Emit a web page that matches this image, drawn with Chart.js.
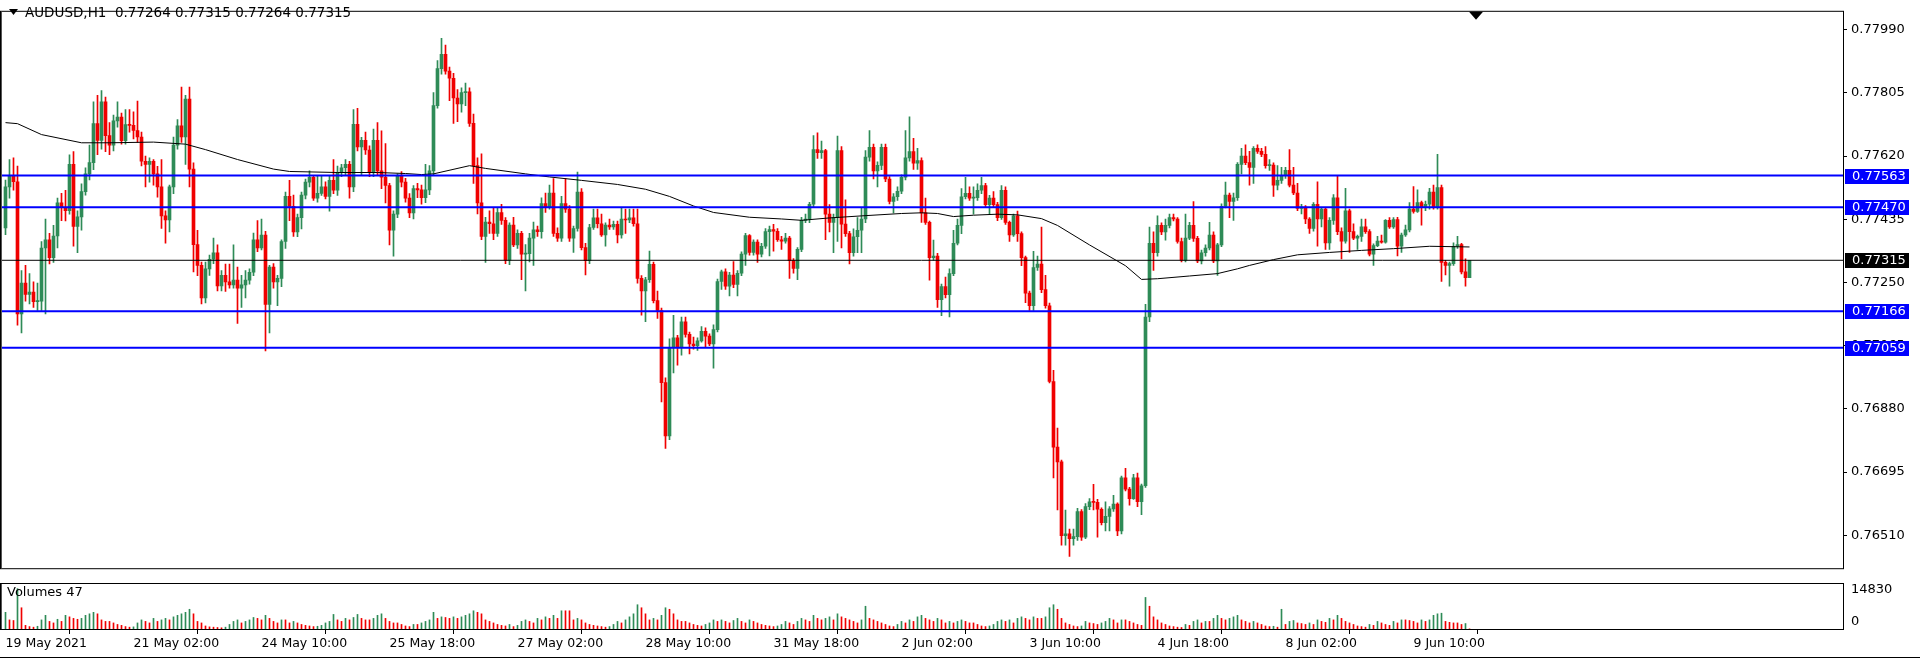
<!DOCTYPE html>
<html><head><meta charset="utf-8">
<script src="https://cdn.jsdelivr.net/npm/chart.js@4.4.1/dist/chart.umd.min.js"></script>
<style>
html,body{margin:0;padding:0;background:#fff;width:1920px;height:661px;overflow:hidden}
canvas{position:absolute;left:0;display:block}
#main{top:0}
#vol{top:580px}
</style></head><body>
<canvas id="main" width="1920" height="580"></canvas>
<canvas id="vol" width="1920" height="81"></canvas>
<script>
// ---------------- DATA ----------------
const symbol = "AUDUSD,H1";
const timeLabels = ["19 May 2021","21 May 02:00","24 May 10:00","25 May 18:00","27 May 02:00","28 May 10:00","31 May 18:00","2 Jun 02:00","3 Jun 10:00","4 Jun 18:00","8 Jun 02:00","9 Jun 10:00"];
const timeTickBars = [0,32,64,96,128,160,192,224,256,288,320,352];
const priceTicks = [0.76510,0.76695,0.76880,0.77065,0.77250,0.77435,0.77620,0.77805,0.77990];
const levelLines = [0.77563,0.77470,0.77166,0.77059];
const volumeScaleMax = 14830;

const open = [
0.77410,0.77530,0.77563,0.77545,0.77158,0.77248,0.77215,0.77222,0.77194,0.77195,
0.77351,0.77375,0.77323,0.77386,0.77483,0.77469,0.77460,0.77596,0.77414,0.77442,
0.77516,0.77568,0.77601,0.77715,0.77666,0.77779,0.77680,0.77652,0.77723,0.77734,
0.77665,0.77712,0.77710,0.77695,0.77676,0.77605,0.77596,0.77605,0.77568,0.77530,
0.77445,0.77433,0.77530,0.77652,0.77709,0.77676,0.77787,0.77582,0.77361,0.77300,
0.77205,0.77290,0.77318,0.77337,0.77240,0.77271,0.77252,0.77243,0.77257,0.77233,
0.77243,0.77257,0.77280,0.77375,0.77351,0.77389,0.77186,0.77295,0.77252,0.77262,
0.77370,0.77502,0.77473,0.77398,0.77440,0.77506,0.77544,0.77558,0.77497,0.77511,
0.77530,0.77502,0.77549,0.77520,0.77572,0.77586,0.77596,0.77530,0.77713,0.77647,
0.77666,0.77638,0.77572,0.77666,0.77577,0.77558,0.77534,0.77403,0.77450,0.77563,
0.77544,0.77497,0.77454,0.77525,0.77521,0.77498,0.77521,0.77577,0.77768,0.77876,
0.77918,0.77869,0.77848,0.77790,0.77773,0.77806,0.77808,0.77716,0.77592,0.77483,
0.77385,0.77427,0.77422,0.77394,0.77455,0.77432,0.77315,0.77418,0.77360,0.77394,
0.77333,0.77334,0.77380,0.77404,0.77399,0.77481,0.77469,0.77512,0.77394,0.77380,
0.77481,0.77465,0.77380,0.77408,0.77515,0.77352,0.77314,0.77411,0.77439,0.77422,
0.77389,0.77418,0.77413,0.77420,0.77389,0.77436,0.77433,0.77439,0.77422,0.77262,
0.77225,0.77258,0.77303,0.77197,0.77168,0.76957,0.76801,0.77060,0.77088,0.77060,
0.77135,0.77098,0.77070,0.77065,0.77079,0.77107,0.77093,0.77070,0.77112,0.77253,
0.77281,0.77239,0.77272,0.77244,0.77277,0.77333,0.77387,0.77338,0.77368,0.77333,
0.77356,0.77399,0.77405,0.77400,0.77375,0.77371,0.77380,0.77314,0.77291,0.77347,
0.77432,0.77436,0.77479,0.77639,0.77630,0.77636,0.77450,0.77426,0.77440,0.77636,
0.77421,0.77393,0.77337,0.77384,0.77403,0.77436,0.77617,0.77646,0.77577,0.77593,
0.77646,0.77553,0.77487,0.77501,0.77517,0.77558,0.77615,0.77633,0.77599,0.77607,
0.77454,0.77426,0.77323,0.77327,0.77200,0.77238,0.77214,0.77276,0.77365,0.77417,
0.77501,0.77511,0.77497,0.77498,0.77520,0.77534,0.77478,0.77497,0.77478,0.77440,
0.77520,0.77426,0.77389,0.77445,0.77393,0.77323,0.77219,0.77182,0.77294,0.77304,
0.77229,0.77182,0.76960,0.76768,0.76725,0.76509,0.76514,0.76500,0.76506,0.76579,
0.76504,0.76594,0.76608,0.76606,0.76586,0.76547,0.76565,0.76587,0.76601,0.76523,
0.76678,0.76645,0.76617,0.76678,0.76608,0.76655,0.77149,0.77365,0.77337,0.77417,
0.77398,0.77417,0.77440,0.77436,0.77370,0.77315,0.77380,0.77417,0.77379,0.77313,
0.77337,0.77351,0.77389,0.77313,0.77360,0.77473,0.77506,0.77487,0.77498,0.77596,
0.77620,0.77601,0.77587,0.77643,0.77634,0.77625,0.77592,0.77594,0.77535,0.77549,
0.77563,0.77578,0.77535,0.77512,0.77467,0.77471,0.77436,0.77408,0.77479,0.77436,
0.77465,0.77366,0.77432,0.77498,0.77399,0.77371,0.77460,0.77399,0.77380,0.77385,
0.77413,0.77399,0.77333,0.77358,0.77371,0.77368,0.77432,0.77413,0.77434,0.77356,
0.77389,0.77404,0.77465,0.77458,0.77484,0.77469,0.77479,0.77515,0.77469,0.77528,
0.77309,0.77300,0.77305,0.77356,0.77361,0.77281,0.77264];

const high = [
0.77550,0.77610,0.77615,0.77591,0.77285,0.77300,0.77276,0.77252,0.77248,0.77370,
0.77436,0.77394,0.77417,0.77497,0.77511,0.77520,0.77624,0.77633,0.77460,0.77539,
0.77586,0.77652,0.77779,0.77798,0.77812,0.77793,0.77718,0.77740,0.77779,0.77746,
0.77756,0.77756,0.77750,0.77781,0.77690,0.77620,0.77615,0.77610,0.77590,0.77610,
0.77460,0.77535,0.77676,0.77727,0.77822,0.77798,0.77822,0.77600,0.77403,0.77310,
0.77310,0.77330,0.77380,0.77360,0.77285,0.77304,0.77304,0.77360,0.77295,0.77271,
0.77285,0.77290,0.77395,0.77431,0.77436,0.77400,0.77300,0.77305,0.77271,0.77375,
0.77515,0.77549,0.77506,0.77450,0.77515,0.77553,0.77577,0.77563,0.77563,0.77563,
0.77545,0.77563,0.77610,0.77591,0.77596,0.77610,0.77605,0.77756,0.77760,0.77675,
0.77690,0.77650,0.77699,0.77718,0.77694,0.77657,0.77540,0.77460,0.77568,0.77575,
0.77555,0.77510,0.77534,0.77540,0.77535,0.77596,0.77592,0.77806,0.77900,0.77965,
0.77945,0.77881,0.77862,0.77815,0.77820,0.77834,0.77820,0.77743,0.77615,0.77627,
0.77441,0.77460,0.77469,0.77469,0.77479,0.77440,0.77425,0.77441,0.77404,0.77400,
0.77361,0.77394,0.77427,0.77415,0.77498,0.77512,0.77535,0.77554,0.77410,0.77502,
0.77554,0.77475,0.77415,0.77573,0.77525,0.77365,0.77420,0.77465,0.77465,0.77450,
0.77425,0.77436,0.77430,0.77430,0.77469,0.77465,0.77465,0.77465,0.77465,0.77270,
0.77265,0.77342,0.77310,0.77225,0.77175,0.76971,0.77085,0.77154,0.77095,0.77149,
0.77149,0.77105,0.77090,0.77088,0.77121,0.77117,0.77100,0.77126,0.77260,0.77286,
0.77290,0.77280,0.77311,0.77285,0.77340,0.77394,0.77390,0.77375,0.77375,0.77365,
0.77408,0.77415,0.77420,0.77408,0.77385,0.77394,0.77385,0.77320,0.77352,0.77441,
0.77450,0.77485,0.77680,0.77688,0.77664,0.77640,0.77478,0.77450,0.77679,0.77648,
0.77492,0.77400,0.77407,0.77440,0.77468,0.77636,0.77695,0.77655,0.77603,0.77655,
0.77655,0.77560,0.77510,0.77530,0.77565,0.77695,0.77735,0.77672,0.77643,0.77615,
0.77497,0.77430,0.77374,0.77335,0.77245,0.77266,0.77290,0.77403,0.77436,0.77525,
0.77558,0.77530,0.77530,0.77539,0.77558,0.77540,0.77505,0.77516,0.77485,0.77534,
0.77530,0.77430,0.77450,0.77459,0.77398,0.77327,0.77225,0.77341,0.77327,0.77412,
0.77271,0.77190,0.76993,0.76824,0.76730,0.76584,0.76528,0.76528,0.76589,0.76585,
0.76603,0.76617,0.76659,0.76615,0.76590,0.76608,0.76594,0.76627,0.76605,0.76683,
0.76706,0.76650,0.76688,0.76692,0.76660,0.77186,0.77412,0.77398,0.77445,0.77425,
0.77436,0.77450,0.77450,0.77440,0.77380,0.77450,0.77426,0.77487,0.77385,0.77345,
0.77360,0.77426,0.77398,0.77365,0.77480,0.77544,0.77512,0.77512,0.77601,0.77643,
0.77653,0.77634,0.77648,0.77653,0.77643,0.77648,0.77610,0.77600,0.77592,0.77587,
0.77587,0.77639,0.77587,0.77540,0.77479,0.77475,0.77440,0.77484,0.77545,0.77470,
0.77470,0.77440,0.77507,0.77563,0.77410,0.77526,0.77465,0.77422,0.77389,0.77436,
0.77436,0.77405,0.77363,0.77385,0.77389,0.77434,0.77440,0.77440,0.77441,0.77395,
0.77418,0.77484,0.77531,0.77521,0.77488,0.77488,0.77526,0.77535,0.77625,0.77535,
0.77315,0.77310,0.77366,0.77385,0.77365,0.77319,0.77315];

const low = [
0.77390,0.77497,0.77520,0.77125,0.77102,0.77195,0.77187,0.77177,0.77168,0.77168,
0.77158,0.77304,0.77309,0.77351,0.77431,0.77430,0.77450,0.77356,0.77337,0.77403,
0.77506,0.77550,0.77580,0.77624,0.77640,0.77633,0.77624,0.77635,0.77705,0.77655,
0.77655,0.77690,0.77670,0.77660,0.77591,0.77530,0.77544,0.77535,0.77500,0.77408,
0.77365,0.77398,0.77510,0.77640,0.77660,0.77596,0.77530,0.77281,0.77270,0.77187,
0.77190,0.77271,0.77305,0.77225,0.77225,0.77224,0.77233,0.77233,0.77130,0.77177,
0.77205,0.77245,0.77270,0.77340,0.77345,0.77050,0.77102,0.77233,0.77182,0.77238,
0.77350,0.77431,0.77385,0.77384,0.77407,0.77495,0.77530,0.77490,0.77485,0.77505,
0.77495,0.77459,0.77510,0.77505,0.77560,0.77565,0.77497,0.77516,0.77635,0.77563,
0.77625,0.77560,0.77560,0.77565,0.77525,0.77483,0.77360,0.77327,0.77440,0.77530,
0.77485,0.77440,0.77436,0.77498,0.77479,0.77484,0.77507,0.77565,0.77760,0.77860,
0.77860,0.77782,0.77716,0.77721,0.77749,0.77768,0.77707,0.77540,0.77451,0.77375,
0.77309,0.77394,0.77375,0.77385,0.77420,0.77305,0.77302,0.77355,0.77350,0.77258,
0.77225,0.77310,0.77300,0.77385,0.77380,0.77455,0.77465,0.77385,0.77370,0.77370,
0.77455,0.77370,0.77338,0.77400,0.77345,0.77272,0.77305,0.77405,0.77410,0.77385,
0.77356,0.77405,0.77405,0.77366,0.77380,0.77394,0.77425,0.77415,0.77248,0.77154,
0.77135,0.77250,0.77190,0.77145,0.76900,0.76764,0.76790,0.76985,0.77008,0.77037,
0.77090,0.77041,0.77055,0.77051,0.77075,0.77060,0.77065,0.76999,0.77105,0.77230,
0.77230,0.77211,0.77235,0.77211,0.77270,0.77300,0.77330,0.77330,0.77309,0.77325,
0.77350,0.77328,0.77342,0.77370,0.77347,0.77365,0.77262,0.77277,0.77258,0.77340,
0.77425,0.77425,0.77470,0.77613,0.77613,0.77375,0.77398,0.77337,0.77370,0.77351,
0.77385,0.77304,0.77327,0.77337,0.77337,0.77425,0.77605,0.77553,0.77530,0.77580,
0.77545,0.77480,0.77454,0.77490,0.77510,0.77550,0.77605,0.77581,0.77581,0.77426,
0.77420,0.77257,0.77315,0.77177,0.77153,0.77205,0.77149,0.77270,0.77360,0.77393,
0.77495,0.77490,0.77450,0.77490,0.77510,0.77470,0.77450,0.77470,0.77431,0.77435,
0.77420,0.77370,0.77385,0.77370,0.77299,0.77191,0.77168,0.77168,0.77285,0.77220,
0.77175,0.76956,0.76678,0.76584,0.76481,0.76481,0.76448,0.76481,0.76495,0.76495,
0.76500,0.76585,0.76584,0.76504,0.76540,0.76523,0.76523,0.76580,0.76509,0.76514,
0.76640,0.76598,0.76615,0.76594,0.76570,0.76650,0.77135,0.77285,0.77327,0.77390,
0.77374,0.77410,0.77430,0.77365,0.77310,0.77310,0.77375,0.77370,0.77308,0.77304,
0.77327,0.77345,0.77308,0.77271,0.77355,0.77468,0.77440,0.77432,0.77490,0.77568,
0.77595,0.77535,0.77540,0.77628,0.77618,0.77585,0.77578,0.77502,0.77521,0.77540,
0.77555,0.77530,0.77507,0.77460,0.77451,0.77422,0.77394,0.77400,0.77356,0.77413,
0.77347,0.77347,0.77420,0.77390,0.77319,0.77365,0.77338,0.77375,0.77347,0.77370,
0.77394,0.77328,0.77300,0.77355,0.77365,0.77365,0.77408,0.77408,0.77328,0.77338,
0.77385,0.77398,0.77453,0.77455,0.77418,0.77460,0.77465,0.77465,0.77465,0.77253,
0.77272,0.77239,0.77300,0.77350,0.77275,0.77239,0.77264];

const close = [
0.77530,0.77563,0.77545,0.77158,0.77248,0.77215,0.77222,0.77194,0.77195,0.77351,
0.77375,0.77323,0.77386,0.77483,0.77469,0.77460,0.77596,0.77414,0.77442,0.77516,
0.77568,0.77601,0.77715,0.77666,0.77779,0.77680,0.77652,0.77723,0.77734,0.77665,
0.77712,0.77710,0.77695,0.77676,0.77605,0.77596,0.77605,0.77568,0.77530,0.77445,
0.77433,0.77530,0.77652,0.77709,0.77676,0.77787,0.77582,0.77361,0.77300,0.77205,
0.77290,0.77318,0.77337,0.77240,0.77271,0.77252,0.77243,0.77257,0.77233,0.77243,
0.77257,0.77280,0.77375,0.77351,0.77389,0.77186,0.77295,0.77252,0.77262,0.77370,
0.77502,0.77473,0.77398,0.77440,0.77506,0.77544,0.77558,0.77497,0.77511,0.77530,
0.77502,0.77549,0.77520,0.77572,0.77586,0.77596,0.77530,0.77713,0.77647,0.77666,
0.77638,0.77572,0.77666,0.77577,0.77558,0.77534,0.77403,0.77450,0.77563,0.77544,
0.77497,0.77454,0.77525,0.77521,0.77498,0.77521,0.77577,0.77768,0.77876,0.77918,
0.77869,0.77848,0.77790,0.77773,0.77806,0.77808,0.77716,0.77592,0.77483,0.77385,
0.77427,0.77422,0.77394,0.77455,0.77432,0.77315,0.77418,0.77360,0.77394,0.77333,
0.77334,0.77380,0.77404,0.77399,0.77481,0.77469,0.77512,0.77394,0.77380,0.77481,
0.77465,0.77380,0.77408,0.77515,0.77352,0.77314,0.77411,0.77439,0.77422,0.77389,
0.77418,0.77413,0.77420,0.77389,0.77436,0.77433,0.77439,0.77422,0.77262,0.77225,
0.77258,0.77303,0.77197,0.77168,0.76957,0.76801,0.77060,0.77088,0.77060,0.77135,
0.77098,0.77070,0.77065,0.77079,0.77107,0.77093,0.77070,0.77112,0.77253,0.77281,
0.77239,0.77272,0.77244,0.77277,0.77333,0.77387,0.77338,0.77368,0.77333,0.77356,
0.77399,0.77405,0.77400,0.77375,0.77371,0.77380,0.77314,0.77291,0.77347,0.77432,
0.77436,0.77479,0.77639,0.77630,0.77636,0.77450,0.77426,0.77440,0.77636,0.77421,
0.77393,0.77337,0.77384,0.77403,0.77436,0.77617,0.77646,0.77577,0.77593,0.77646,
0.77553,0.77487,0.77501,0.77517,0.77558,0.77615,0.77633,0.77599,0.77607,0.77454,
0.77426,0.77323,0.77327,0.77200,0.77238,0.77214,0.77276,0.77365,0.77417,0.77501,
0.77511,0.77497,0.77498,0.77520,0.77534,0.77478,0.77497,0.77478,0.77440,0.77520,
0.77426,0.77389,0.77445,0.77393,0.77323,0.77219,0.77182,0.77294,0.77304,0.77229,
0.77182,0.76960,0.76768,0.76725,0.76509,0.76514,0.76500,0.76506,0.76579,0.76504,
0.76594,0.76608,0.76606,0.76586,0.76547,0.76565,0.76587,0.76601,0.76523,0.76678,
0.76645,0.76617,0.76678,0.76608,0.76655,0.77149,0.77365,0.77337,0.77417,0.77398,
0.77417,0.77440,0.77436,0.77370,0.77315,0.77380,0.77417,0.77379,0.77313,0.77337,
0.77351,0.77389,0.77313,0.77360,0.77473,0.77506,0.77487,0.77498,0.77596,0.77620,
0.77601,0.77587,0.77643,0.77634,0.77625,0.77592,0.77594,0.77535,0.77549,0.77563,
0.77578,0.77535,0.77512,0.77467,0.77471,0.77436,0.77408,0.77479,0.77436,0.77465,
0.77366,0.77432,0.77498,0.77399,0.77371,0.77460,0.77399,0.77380,0.77385,0.77413,
0.77399,0.77333,0.77358,0.77371,0.77368,0.77432,0.77413,0.77434,0.77356,0.77389,
0.77404,0.77465,0.77458,0.77484,0.77469,0.77479,0.77515,0.77469,0.77528,0.77309,
0.77300,0.77305,0.77356,0.77361,0.77281,0.77264,0.77315];

const volume = [
5500,3000,2800,13300,7000,1200,800,600,900,3000,
4500,2500,2000,3200,2500,4500,4000,3500,3200,3500,
4500,5000,5500,5000,3000,2500,2500,2000,1500,1200,
800,600,700,2000,3000,2500,2000,3500,2500,3000,
3500,3000,4000,4500,5000,5500,6500,5000,2500,2000,
1000,700,600,500,400,600,1500,2500,3000,2000,
2500,3000,3800,3500,3000,4500,3500,2500,2000,3000,
3000,2000,2500,2000,1500,1200,1000,800,900,1200,
2000,2500,4800,3000,2500,3500,3000,3800,4800,3500,
3000,3000,3500,4500,5000,3500,2500,2000,2000,1500,
1000,800,1500,1500,2000,2500,3000,5500,3500,4000,
3800,3500,4000,3500,4000,4500,5000,6000,5500,5000,
3000,2500,2000,1500,1200,1000,1500,800,1200,2500,
3000,2500,2000,3500,3000,4000,3500,4500,3500,6000,
6000,6000,3000,3500,3000,2000,1500,1200,1000,800,
600,800,1500,2500,2000,3000,4000,5000,8000,7000,
5000,3000,3500,3000,4500,7000,6500,5000,3000,2500,
2500,2000,1500,1200,1000,1500,2000,3000,2500,3000,
2500,2000,2800,3500,2500,2000,3000,2500,2000,1500,
1200,1000,800,1000,1500,2500,2000,1500,2500,3500,
3000,2500,4500,3500,3000,3500,4000,3000,5000,4000,
3500,3000,2500,2000,3000,7500,3500,3000,2500,2000,
1500,1000,800,1500,2500,2000,3000,2500,4000,4500,
3500,3000,2500,3500,3000,2000,2500,2000,2500,3000,
2500,2000,2000,1500,1000,800,1000,1500,2500,3000,
2500,3000,2000,3500,4000,3500,3000,4000,3500,3500,
4000,7000,8000,6500,3500,2000,1500,1000,800,1000,
2500,2000,1800,1500,2000,2500,3500,3000,2000,3000,
3000,2500,2000,1500,1200,10400,7500,4000,3000,2000,
1500,1000,800,600,500,1500,1200,2500,3000,2000,
2500,2500,3500,4500,3500,3000,3500,4000,4500,3000,
2500,2000,2500,2000,1500,1000,800,900,600,6500,
1500,2500,2800,2000,1800,1500,2000,1500,3000,2500,
2200,3500,3000,4500,3500,2500,2000,1500,1000,800,
600,1500,1200,2500,2000,1500,1200,2500,2000,3000,
3000,2800,2500,2000,3000,2500,3000,4500,5000,5200,
2500,2200,2000,2000,1500,1800,47];

// moving average line, read at sample bars
const maBars = [0,3,9,19,26,37,45,50,58,67,71,83,93,100,104,107,116,120,130,136,144,153,160,166,172,177,186,194,199,206,214,224,229,233,237,242,248,253,259,263,271,280,284,288,296,303,308,311,317,323,331,339,347,356,366];
const maValues = [0.77718,0.77715,0.77683,0.77659,0.77659,0.77661,0.77655,0.77639,0.77610,0.77582,0.77575,0.77572,0.77572,0.77569,0.77566,0.77568,0.77592,0.77584,0.77568,0.77559,0.77549,0.77537,0.77523,0.77502,0.77474,0.77455,0.77441,0.77436,0.77432,0.77439,0.77445,0.77452,0.77454,0.77452,0.77443,0.77447,0.77450,0.77448,0.77437,0.77417,0.77360,0.77299,0.77259,0.77261,0.77269,0.77276,0.77290,0.77300,0.77317,0.77331,0.77338,0.77344,0.77349,0.77356,0.77354];

// ---------------- STYLE ----------------
const GREEN = 'rgb(46,139,87)';
const RED = 'rgb(240,0,0)';
const BLUE = 'rgb(0,0,255)';
const FONT = 'DejaVu Sans';
const X_MIN = -1.375, X_MAX = 459.375;
const Y_MAX = 0.780425, Y_MIN = 0.764135;
const AXIS_W = 77;

const N = close.length;
const idx = close.map((_, i) => i);
const candleCol = idx.map(i => close[i] >= open[i] ? GREEN : RED);
const volCol = idx.map(i => (i === 0 || volume[i] > volume[i-1]) ? GREEN : RED);
const lastPrice = close[N-1];
const fmt = v => v.toFixed(5);

const levelDatasets = levelLines.map(v => ({
  type: 'line', data: [{x: X_MIN, y: v}, {x: X_MAX, y: v}],
  borderColor: BLUE, borderWidth: 2, pointRadius: 0, order: 0
}));

const mainDeco = {
  id: 'mainDeco',
  afterDraw(chart) {
    const {ctx, chartArea: a, scales} = chart;
    const y = scales.y, x = scales.x;
    ctx.save();
    ctx.strokeStyle = '#000'; ctx.lineWidth = 1;
    ctx.strokeRect(0.5, a.top - 0.5, a.right, a.bottom - a.top + 1);
    ctx.fillStyle = '#555'; ctx.fillRect(1, a.top, 1, a.bottom - a.top);
    // header
    ctx.fillStyle = '#000';
    ctx.beginPath(); ctx.moveTo(9, 9); ctx.lineTo(18, 9); ctx.lineTo(13.5, 15); ctx.closePath(); ctx.fill();
    ctx.font = '13.5px ' + FONT; ctx.textBaseline = 'middle'; ctx.textAlign = 'left';
    ctx.fillText(symbol + '  ' + [open[N-1], high[N-1], low[N-1], close[N-1]].map(fmt).join(' '), 25, 13);
    // chart shift marker
    const sx = Math.round(x.getPixelForValue(N + 0.6));
    ctx.beginPath(); ctx.moveTo(sx - 7, a.top); ctx.lineTo(sx + 7, a.top); ctx.lineTo(sx, a.top + 8); ctx.closePath(); ctx.fill();
    // price boxes on the axis
    const box = (v, bg) => {
      const py = Math.round(y.getPixelForValue(v));
      ctx.fillStyle = bg; ctx.fillRect(a.right + 2, py - 7, 64, 15);
      ctx.fillStyle = '#fff'; ctx.font = '13px ' + FONT; ctx.textBaseline = 'middle';
      ctx.fillText(fmt(v), a.right + 9, py + 1);
    };
    levelLines.forEach(v => box(v, BLUE));
    box(lastPrice, '#000');
    ctx.restore();
  }
};

new Chart(document.getElementById('main'), {
  type: 'bar',
  data: {
    datasets: [
      { type: 'bar', data: idx.map(i => ({x: i, y: [low[i], high[i]]})), backgroundColor: candleCol, barThickness: 1, grouped: false, order: 3 },
      { type: 'bar', data: idx.map(i => ({x: i, y: [open[i], close[i]]})), backgroundColor: candleCol, barThickness: 3, minBarLength: 1, grouped: false, order: 2 },
      { type: 'line', data: maBars.map((b, k) => ({x: b, y: maValues[k]})), borderColor: '#000', borderWidth: 1, pointRadius: 0, tension: 0, order: 1 },
      ...levelDatasets,
      { type: 'line', data: [{x: X_MIN, y: lastPrice}, {x: X_MAX, y: lastPrice}], borderColor: '#000', borderWidth: 1, pointRadius: 0, order: 0 }
    ]
  },
  options: {
    responsive: false, animation: false, devicePixelRatio: 1, events: [],
    layout: { autoPadding: false, padding: { left: 0, right: 0, top: 1, bottom: 2 } },
    plugins: { legend: { display: false }, tooltip: { enabled: false } },
    scales: {
      x: { type: 'linear', min: X_MIN, max: X_MAX, display: false, offset: false },
      y: {
        position: 'right', min: Y_MIN, max: Y_MAX,
        afterFit: s => { s.width = AXIS_W; },
        afterBuildTicks: s => { s.ticks = priceTicks.map(v => ({value: v})); },
        ticks: { autoSkip: false, color: '#000', padding: 4, font: { family: FONT, size: 13 }, callback: v => fmt(v) },
        grid: { drawOnChartArea: false, tickLength: 4, color: '#000' },
        border: { display: true, color: '#000' }
      }
    }
  },
  plugins: [mainDeco]
});

const volDeco = {
  id: 'volDeco',
  afterDraw(chart) {
    const {ctx, chartArea: a} = chart;
    ctx.save();
    ctx.strokeStyle = '#000'; ctx.lineWidth = 1;
    ctx.strokeRect(0.5, a.top - 0.5, a.right, a.bottom - a.top + 1);
    ctx.fillStyle = '#555'; ctx.fillRect(1, a.top, 1, a.bottom - a.top);
    ctx.fillStyle = '#000'; ctx.font = '13px ' + FONT; ctx.textBaseline = 'middle'; ctx.textAlign = 'left';
    ctx.fillText('Volumes ' + volume[N-1], 7, a.top + 9);
    ctx.fillText(String(volumeScaleMax), a.right + 8, a.top + 6);
    ctx.fillText('0', a.right + 8, a.bottom - 7);
    ctx.fillStyle = '#000'; ctx.fillRect(0, 77, 1920, 1);
    ctx.restore();
  }
};

new Chart(document.getElementById('vol'), {
  type: 'bar',
  data: {
    datasets: [
      { data: idx.map(i => ({x: i, y: volume[i]})), backgroundColor: volCol, barThickness: 1, grouped: false }
    ]
  },
  options: {
    responsive: false, animation: false, devicePixelRatio: 1, events: [],
    layout: { autoPadding: false, padding: { left: 0, right: 0, top: 4, bottom: 0 } },
    plugins: { legend: { display: false }, tooltip: { enabled: false } },
    scales: {
      x: {
        type: 'linear', min: X_MIN, max: X_MAX, offset: false, position: 'bottom',
        afterFit: s => { s.height = 32; },
        afterBuildTicks: s => { s.ticks = timeTickBars.map(v => ({value: v})); },
        ticks: { autoSkip: false, maxRotation: 0, minRotation: 0, align: 'start', color: '#000', padding: 2, font: { family: FONT, size: 12.5 },
                 callback: (v, k) => timeLabels[k] },
        grid: { drawOnChartArea: false, tickLength: 5, color: '#000' },
        border: { display: true, color: '#000' }
      },
      y: {
        position: 'right', min: 0, max: volumeScaleMax,
        afterFit: s => { s.width = AXIS_W; },
        ticks: { display: false }, grid: { display: false },
        border: { display: true, color: '#000' }
      }
    }
  },
  plugins: [volDeco]
});
</script>
</body></html>
